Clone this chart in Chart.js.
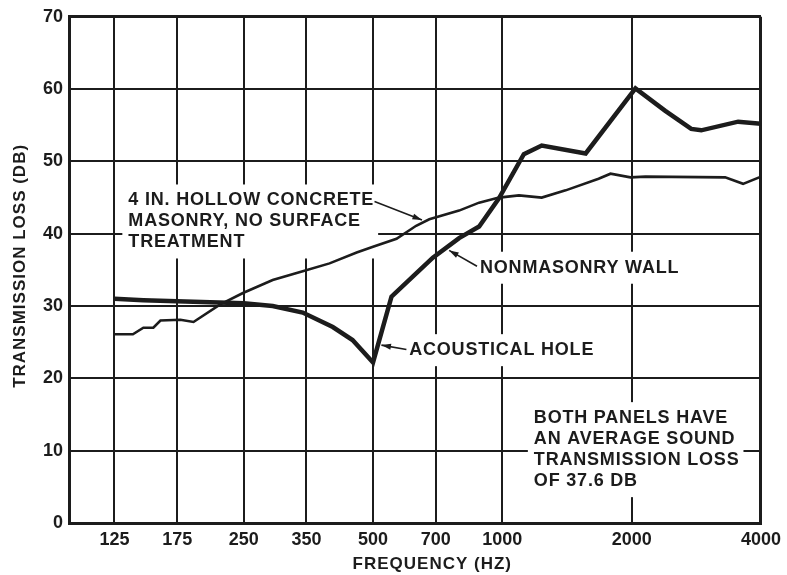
<!DOCTYPE html>
<html lang="en">
<head>
<meta charset="UTF-8" />
<title>Transmission loss</title>
<script src="https://cdn.jsdelivr.net/npm/chart.js"></script>
<style>
  html, body { margin: 0; padding: 0; background: #fff; }
</style>
</head>
<body>
<canvas id="chart" width="787" height="575"></canvas>
<script>
// x ticks (Hz)
const freqTicks = [125, 175, 250, 350, 500, 700, 1000, 2000, 4000];

// 4 in. hollow concrete masonry (thin line)
const masonryFreq = [125, 138, 146, 154, 160, 178, 191, 220, 249, 292, 343, 396, 458, 500, 567, 630, 676, 793, 883, 982, 1093, 1235, 1404, 1675, 1786, 1987, 2153, 3301, 3634, 4000];
const masonryLoss = [26.1, 26.1, 27.0, 27.0, 28.0, 28.1, 27.8, 30.2, 31.8, 33.6, 34.8, 35.9, 37.4, 38.2, 39.3, 41.1, 42.0, 43.2, 44.3, 45.0, 45.3, 45.0, 46.0, 47.6, 48.3, 47.8, 47.9, 47.8, 46.9, 47.9];

// nonmasonry wall (thick line)
const wallFreq = [125, 146, 250, 292, 343, 403, 448, 500, 552, 640, 689, 793, 883, 982, 1122, 1235, 1563, 2041, 2395, 2752, 2904, 3539, 4000];
const wallLoss = [31.0, 30.8, 30.4, 30.0, 29.1, 27.1, 25.3, 22.2, 31.3, 34.9, 36.7, 39.4, 41.0, 44.9, 51.0, 52.2, 51.1, 60.1, 57.0, 54.5, 54.3, 55.5, 55.2];

// callouts, placed in data units (Hz, dB): first line's left / middle
const notes = [
  { f: 134.7, db: 44.6, lines: ["4 IN. HOLLOW CONCRETE", "MASONRY, NO SURFACE", "TREATMENT"] },
  { f: 887, db: 35.3, lines: ["NONMASONRY WALL"] },
  { f: 607, db: 23.9, lines: ["ACOUSTICAL HOLE"] },
  { f: 1184, db: 14.5, lines: ["BOTH PANELS HAVE", "AN AVERAGE SOUND", "TRANSMISSION LOSS", "OF 37.6 DB"] }
];
const arrows = [
  { from: [504, 44.45], to: [650, 41.9] },
  { from: [873, 35.5], to: [752, 37.7] },
  { from: [598, 24.0], to: [523, 24.6] }
];

const ink = "#1c1c1c";
const face = '"Liberation Sans", Arial, Helvetica, sans-serif';

const notesPlugin = {
  id: "notes",
  beforeDatasetsDraw(chart) {
    const { ctx, scales: { x, y } } = chart;
    const gap = 21;
    ctx.save();
    ctx.font = "bold 18px " + face;
    ctx.letterSpacing = "0.8px";
    ctx.textBaseline = "middle";
    notes.forEach(n => {
      const px = x.getPixelForValue(n.f);
      const py = y.getPixelForValue(n.db);
      const w = Math.max(...n.lines.map(l => ctx.measureText(l).width));
      ctx.fillStyle = "#fff";
      ctx.fillRect(px - 6, py - 16, w + 10, gap * (n.lines.length - 1) + 32);
      ctx.fillStyle = ink;
      n.lines.forEach((l, i) => ctx.fillText(l, px, py + i * gap));
    });
    ctx.restore();
  },
  afterDatasetsDraw(chart) {
    const { ctx, scales: { x, y } } = chart;
    ctx.save();
    ctx.strokeStyle = ink;
    ctx.fillStyle = ink;
    ctx.lineWidth = 1.6;
    arrows.forEach(a => {
      const x1 = x.getPixelForValue(a.from[0]), y1 = y.getPixelForValue(a.from[1]);
      const x2 = x.getPixelForValue(a.to[0]), y2 = y.getPixelForValue(a.to[1]);
      const ang = Math.atan2(y2 - y1, x2 - x1);
      ctx.beginPath();
      ctx.moveTo(x1, y1);
      ctx.lineTo(x2, y2);
      ctx.stroke();
      ctx.beginPath();
      ctx.moveTo(x2, y2);
      ctx.lineTo(x2 - 10 * Math.cos(ang - 0.3), y2 - 10 * Math.sin(ang - 0.3));
      ctx.lineTo(x2 - 10 * Math.cos(ang + 0.3), y2 - 10 * Math.sin(ang + 0.3));
      ctx.closePath();
      ctx.fill();
    });
    ctx.restore();
  },
  afterDraw(chart) {
    // axis titles
    const { ctx, chartArea } = chart;
    ctx.save();
    ctx.font = "bold 17px " + face;
    ctx.fillStyle = ink;
    ctx.textAlign = "center";
    ctx.textBaseline = "middle";
    ctx.letterSpacing = "1px";
    ctx.fillText("FREQUENCY (HZ)", chartArea.left + (chartArea.right - chartArea.left) * 0.525, 564);
    ctx.translate(20, (chartArea.top + chartArea.bottom) / 2 - 4);
    ctx.rotate(-Math.PI / 2);
    ctx.fillText("TRANSMISSION LOSS (DB)", 0, 0);
    ctx.restore();
  }
};

const tickFont = { family: face, size: 18, weight: "bold" };

new Chart(document.getElementById("chart"), {
  type: "line",
  data: {
    datasets: [
      {
        label: "4 in. hollow concrete masonry",
        data: masonryFreq.map((f, i) => ({ x: f, y: masonryLoss[i] })),
        borderColor: ink,
        borderWidth: 2.6,
        pointRadius: 0,
        tension: 0,
        fill: false
      },
      {
        label: "Nonmasonry wall",
        data: wallFreq.map((f, i) => ({ x: f, y: wallLoss[i] })),
        borderColor: ink,
        borderWidth: 4.5,
        pointRadius: 0,
        tension: 0,
        fill: false
      }
    ]
  },
  options: {
    responsive: false,
    animation: false,
    devicePixelRatio: 1,
    layout: { padding: { top: 16, right: 24, left: 0, bottom: 0 } },
    plugins: { legend: { display: false }, tooltip: { enabled: false } },
    scales: {
      x: {
        type: "logarithmic",
        min: 98,
        max: 4000,
        afterBuildTicks: s => { s.ticks = freqTicks.map(v => ({ value: v })); },
        afterFit: s => { s.height = 52; },
        ticks: {
          callback: v => String(v),
          autoSkip: false,
          maxRotation: 0,
          font: tickFont,
          color: ink,
          padding: 6
        },
        grid: {
          color: ink,
          lineWidth: c => (c.tick && c.tick.value === 4000 ? 3 : 2),
          drawTicks: false
        },
        border: { color: ink, width: 3 }
      },
      y: {
        min: 0,
        max: 70,
        afterFit: s => { s.width = 69; },
        ticks: { stepSize: 10, font: tickFont, color: ink, padding: 6 },
        grid: {
          color: ink,
          lineWidth: c => (c.tick && c.tick.value === 70 ? 3 : 2),
          drawTicks: false
        },
        border: { color: ink, width: 3 }
      }
    }
  },
  plugins: [notesPlugin]
});
</script>
</body>
</html>
